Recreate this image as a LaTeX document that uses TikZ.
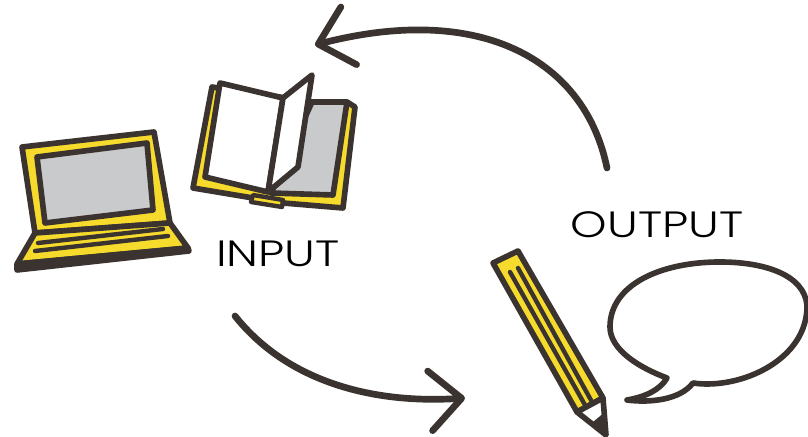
\documentclass[tikz,border=0pt]{standalone}
\usepackage{fontspec}
\setsansfont{Poppins Light}
\usetikzlibrary{arrows.meta,bending}
\definecolor{ink}{HTML}{3A3330}
\definecolor{lemon}{HTML}{F6DB2D}
\definecolor{screen}{HTML}{C9CACC}
\begin{document}
\begin{tikzpicture}[x=0.01cm,y=-0.01cm]
\tikzset{
  ln/.style={draw=ink, line width=1.6pt, line join=round, line cap=round},
  thinln/.style={draw=ink, line width=1.25pt, line join=round, line cap=round},
  flow/.style={draw=ink, line width=1.9pt, line cap=round, -{Straight Barb[length=9pt,width=17pt,line width=1.9pt,round,flex=1]}},
  lbl/.style={font=\sffamily\fontsize{10.4}{12}\selectfont, text=black, inner sep=0pt, xscale=1.27}
}
\useasboundingbox (0,0) rectangle (808,437);
% ---------- laptop ----------
\draw[ln, fill=lemon] (22,147) -- (154,132) -- (170,223) -- (35,233) -- cycle;
\draw[ln, fill=screen] (37,157) -- (147,143) -- (153,210) -- (45,223) -- cycle;
\draw[ln, fill=lemon] (35,233) -- (170,223) -- (188,248) -- (17,264) -- cycle;
\draw[ln, fill=white] (17,264) -- (188,248) -- (189,251) -- (17,270) -- cycle;
\draw[thinln] (38,243) -- (163,229);
\draw[thinln] (35,251) -- (168,236);
% ---------- open book ----------
\draw[ln, fill=lemon] (212,87) -- (193,188) -- (253,198) -- (283,203) -- (343,208) -- (355,107) -- (347,102) -- (312,102) -- cycle;
\draw[ln, fill=screen] (312,102) -- (347,102) -- (333,195) -- (271,193) -- cycle;
\draw[ln, fill=white] (220,83) -- (283,98) -- (268,192) -- (205,177) -- cycle;
\draw[ln, fill=white] (283,98) -- (312,75) -- (298,167) -- (268,192) -- cycle;
\draw[thinln, fill=lemon] (253,195) -- (283,200) -- (282,207) -- (251,202) -- cycle;
% ---------- pencil ----------
\draw[ln, fill=lemon] (493,263) -- (518,251) -- (603,398) -- (577,412) -- cycle;
\draw[ln, fill=white] (577,412) -- (603,398) -- (606,435) -- cycle;
\fill[ink] (593,422) -- (606,435) -- (605,412) -- cycle;
\draw[thinln] (510,272) -- (585,405);
\draw[thinln] (518,268) -- (592,402);
% ---------- speech bubble ----------
\draw[ln, fill=white] (693,383) .. controls (740,390) and (808,360) .. (807,305)
  .. controls (804,275) and (765,262) .. (720,262)
  .. controls (660,262) and (610,285) .. (610,327)
  .. controls (610,350) and (640,368) .. (667,378)
  .. controls (660,390) and (645,397) .. (627,400)
  .. controls (650,403) and (680,400) .. (693,383) -- cycle;
% ---------- labels ----------
\node[lbl] (input) at (278,254) {INPUT};
\node[lbl] (output) at (657,225) {OUTPUT};
% ---------- arrows ----------
\coordinate (outstart) at (607,168);
\coordinate (outend) at (315,45);
\coordinate (instart) at (235,316);
\coordinate (inend) at (465,398);
\draw[flow] (outstart) .. controls (585,60) and (480,0) .. (outend);
\draw[flow] (instart) .. controls (290,385) and (380,405) .. (inend);
\end{tikzpicture}
\end{document}
